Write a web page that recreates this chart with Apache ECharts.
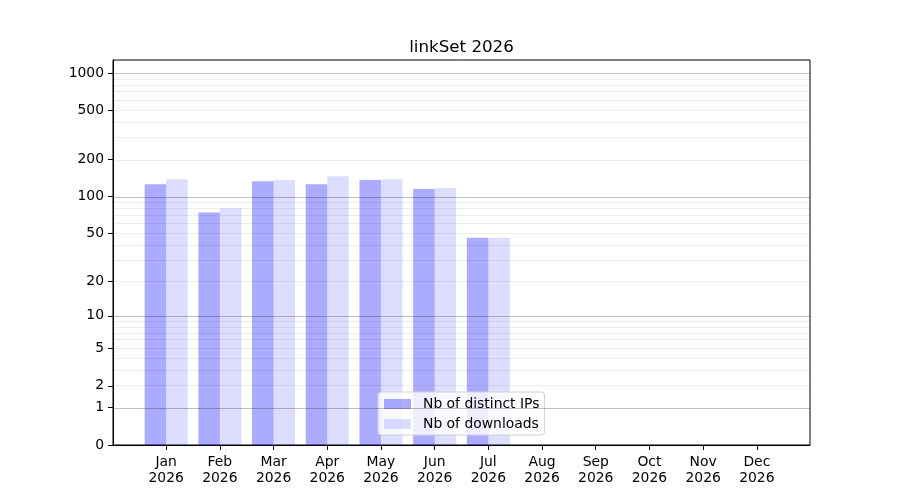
<!DOCTYPE html>
<html>
<head>
<meta charset="utf-8">
<script src="https://cdn.jsdelivr.net/npm/echarts@6/dist/echarts.min.js"></script>
<style>html,body{margin:0;padding:0;background:#fff}#c{width:900px;height:500px}</style>
</head>
<body>
<div id="c"></div>
<script>
const months = ['Jan','Feb','Mar','Apr','May','Jun','Jul','Aug','Sep','Oct','Nov','Dec'];
const year = '2026';
const distinctIPs = [126, 74, 133, 126, 136, 115, 46, null, null, null, null, null];
const downloads   = [138, 80, 136, 146, 138, 117, 46, null, null, null, null, null];
const yTicks = [0, 1, 2, 5, 10, 20, 50, 100, 200, 500, 1000];
const majorGrid = [1, 10, 100, 1000];
const minorGrid = [2,3,4,5,6,7,8,9,20,30,40,50,60,70,80,90,200,300,400,500,600,700,800,900];

// symlog-like transform: log10(1 + v)
const tf = v => Math.log10(1 + v);
const inv = t => Math.round(Math.pow(10, t) - 1);

const xIdx = months.map((m, i) => i);
const toData = arr => arr.map((v, i) => v == null ? null : [i, tf(v)]);

const gridLines = majorGrid.map(v => ({ yAxis: tf(v), lineStyle: { color: 'rgba(0,0,0,0.25)', width: 1, type: 'solid' } }))
  .concat(minorGrid.map(v => ({ yAxis: tf(v), lineStyle: { color: 'rgba(0,0,0,0.07)', width: 1, type: 'solid' } })));

const FONT = 'DejaVu Sans';
const FS = 13.9;
const chart = echarts.init(document.getElementById('c'), null, { renderer: 'canvas' });
chart.setOption({
  animation: false,
  backgroundColor: '#fff',
  textStyle: { fontFamily: FONT, color: '#000' },
  title: {
    text: 'linkSet ' + year, left: 456.5, textAlign: 'center', top: 34,
    textStyle: { fontFamily: FONT, fontSize: 16.7, fontWeight: 'normal', color: '#000' }
  },
  grid: { left: 113, right: 90, top: 60, bottom: 55, show: true, borderColor: '#000', borderWidth: 1, backgroundColor: 'transparent' },
  legend: {
    data: ['Nb of distinct IPs', 'Nb of downloads'],
    orient: 'vertical', left: 378, top: 392,
    itemWidth: 27, itemHeight: 10, itemGap: 6,
    backgroundColor: 'rgba(255,255,255,0.8)', borderColor: '#d0d0d0', borderWidth: 1, borderRadius: 3,
    padding: [5, 5, 4, 6],
    icon: 'rect',
    textStyle: { fontFamily: FONT, fontSize: FS, color: '#000', padding: [0, 0, 0, 7] }
  },
  xAxis: {
    type: 'value', min: -0.99, max: 11.99,
    axisLine: { show: true, onZero: false, lineStyle: { color: '#000' } },
    axisTick: { show: true, length: 5, lineStyle: { color: '#000' }, customValues: xIdx },
    axisLabel: {
      customValues: xIdx, color: '#000', fontFamily: FONT, fontSize: FS, lineHeight: 16, margin: 9,
      formatter: v => months[Math.round(v)] + '\n' + year
    },
    splitLine: { show: false }
  },
  yAxis: {
    type: 'value', min: 0, max: 3.105,
    axisLine: { show: true, onZero: false, lineStyle: { color: '#000' } },
    axisTick: { show: true, length: 5, lineStyle: { color: '#000' }, customValues: yTicks.map(tf) },
    axisLabel: {
      customValues: yTicks.map(tf), color: '#000', fontFamily: FONT, fontSize: FS, margin: 9,
      padding: [2, 0, 0, 0],
      formatter: v => String(inv(v))
    },
    splitLine: { show: false }
  },
  series: [
    {
      name: 'Nb of distinct IPs', type: 'bar', data: toData(distinctIPs),
      barWidth: 21.5, barGap: '0%',
      itemStyle: { color: 'rgba(0,0,255,0.33)' },
      markLine: { silent: true, symbol: 'none', label: { show: false }, data: gridLines, animation: false }
    },
    {
      name: 'Nb of downloads', type: 'bar', data: toData(downloads),
      barWidth: 21.5, barGap: '0%',
      itemStyle: { color: 'rgba(0,0,255,0.135)' }
    }
  ]
});
</script>
</body>
</html>
